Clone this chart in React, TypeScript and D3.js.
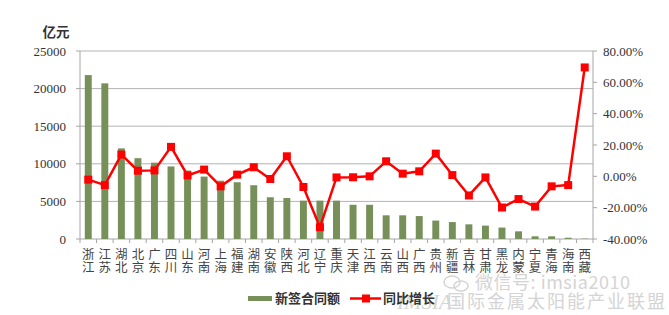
import React from "react";
import * as d3 from "d3";

const categories = ["浙江","江苏","湖北","北京","广东","四川","山东","河南","上海","福建","湖南","安徽","陕西","河北","辽宁","重庆","天津","江西","云南","山西","广西","贵州","新疆","吉林","甘肃","黑龙","内蒙","宁夏","青海","海南","西藏"];
const contractValues = [21800,20700,12050,10750,10150,9650,9100,8300,7750,7550,7150,5550,5450,5100,5100,5100,4550,4550,3150,3150,3050,2450,2250,1950,1780,1520,1020,360,360,170,40];
const growthValues = [-2.1,-5.6,13.9,3.6,3.8,18.8,0.6,4.3,-6.4,1.1,5.8,-1.7,12.8,-6.8,-32.5,-0.7,-0.6,0,9.6,1.7,3.2,14.5,0.8,-12.2,-0.7,-19.9,-14.5,-19.3,-6.4,-5.6,69.5];
const leftTicks = [0,5000,10000,15000,20000,25000];
const rightTicks = [-40,-20,0,20,40,60,80];
const seriesNames = ["新签合同额","同比增长"];

const W = 669, H = 315;
const L = 80, R = 593, T = 51, B = 239;
const BAR = "#77905a";
const RED = "#ff0000";
const AXIS = "#a6a6a6";
const GRID = "#b3b3b3";
const WM = "#d4d4d4";
const serif = "'Liberation Serif', 'DejaVu Serif', serif";
const cjk = "'Noto Sans CJK SC', sans-serif";

export default function App() {
  const x = d3.scaleBand<string>().domain(categories).range([L, R]).paddingInner(0.58).paddingOuter(0.29);
  const yL = d3.scaleLinear().domain([0, 25000]).range([B, T]);
  const yR = d3.scaleLinear().domain([-40, 80]).range([B, T]);
  const step = x.step();
  const cx = (c: string) => (x(c) as number) + x.bandwidth() / 2;
  const line = d3.line<number>().x((_, i) => cx(categories[i])).y((d) => yR(d));
  return (
    <svg width={W} height={H} style={{ position: "absolute", left: 0, top: 0, background: "#fff" }}>
      {leftTicks.map((t) => (
        <line key={"g" + t} x1={L} x2={R} y1={yL(t)} y2={yL(t)} stroke={t === 0 ? AXIS : GRID} strokeWidth={1} />
      ))}
      {categories.map((c, i) => (
        <rect key={"b" + c + i} x={x(c)} y={yL(contractValues[i])} width={x.bandwidth()} height={B - yL(contractValues[i])} fill={BAR} />
      ))}
      <line x1={L} x2={L} y1={T} y2={B} stroke={AXIS} />
      <line x1={R} x2={R} y1={T} y2={B} stroke={AXIS} />
      {leftTicks.map((t) => (
        <g key={"lt" + t}>
          <line x1={L - 4} x2={L} y1={yL(t)} y2={yL(t)} stroke={AXIS} />
          <text x={66} y={yL(t)} dy="0.35em" textAnchor="end" fontFamily={serif} fontSize={13} fill="#333">{t}</text>
        </g>
      ))}
      {rightTicks.map((t) => (
        <g key={"rt" + t}>
          <line x1={R} x2={R + 4} y1={yR(t)} y2={yR(t)} stroke={AXIS} />
          <text x={603} y={yR(t)} dy="0.35em" textAnchor="start" fontFamily={serif} fontSize={13} fill="#333">{t.toFixed(2) + "%"}</text>
        </g>
      ))}
      {d3.range(categories.length + 1).map((i) => (
        <line key={"xt" + i} x1={L + i * step} x2={L + i * step} y1={B} y2={B + 4} stroke={AXIS} />
      ))}
      {categories.map((c, i) => (
        <text key={"xl" + i} x={cx(c)} y={255} textAnchor="middle" fontFamily={cjk} fontSize={12.5} fill="#444">
          <tspan x={cx(c)} dy="0.35em">{c[0]}</tspan>
          <tspan x={cx(c)} dy="13">{c[1]}</tspan>
        </text>
      ))}
      <path d={line(growthValues) || ""} fill="none" stroke={RED} strokeWidth={2.5} />
      {growthValues.map((v, i) => (
        <rect key={"m" + i} x={cx(categories[i]) - 4} y={yR(v) - 4} width={8} height={8} fill={RED} />
      ))}
      <text x={56} y={37} textAnchor="middle" fontFamily={cjk} fontSize={13.5} fontWeight="bold" fill="#333">亿元</text>
      <g fill="none" stroke={WM} strokeWidth={1.5}>
        <ellipse cx={452} cy={282} rx={8} ry={6} />
        <ellipse cx={461} cy={286} rx={7} ry={5} />
      </g>
      <text x={475} y={289} fontFamily={cjk} fontSize={18} fill={WM} textLength={155} lengthAdjust="spacing">微信号: imsia2010</text>
      <text x={397} y={309} fontFamily={serif} fontSize={21} fontStyle="italic" fill={WM}>IMSIA</text>
      <text x={447} y={308} fontFamily={cjk} fontSize={18} fill={WM} textLength={218} lengthAdjust="spacing">国际金属太阳能产业联盟</text>
      <rect x={248} y={296} width={24} height={5} fill={BAR} />
      <text x={275} y={298.5} dy="0.35em" fontFamily={cjk} fontSize={13} fontWeight="bold" fill="#333">{seriesNames[0]}</text>
      <line x1={350} x2={381} y1={298.5} y2={298.5} stroke={RED} strokeWidth={2.5} />
      <rect x={362} y={294.5} width={8} height={8} fill={RED} />
      <text x={383} y={298.5} dy="0.35em" fontFamily={cjk} fontSize={13} fontWeight="bold" fill="#333">{seriesNames[1]}</text>
    </svg>
  );
}
